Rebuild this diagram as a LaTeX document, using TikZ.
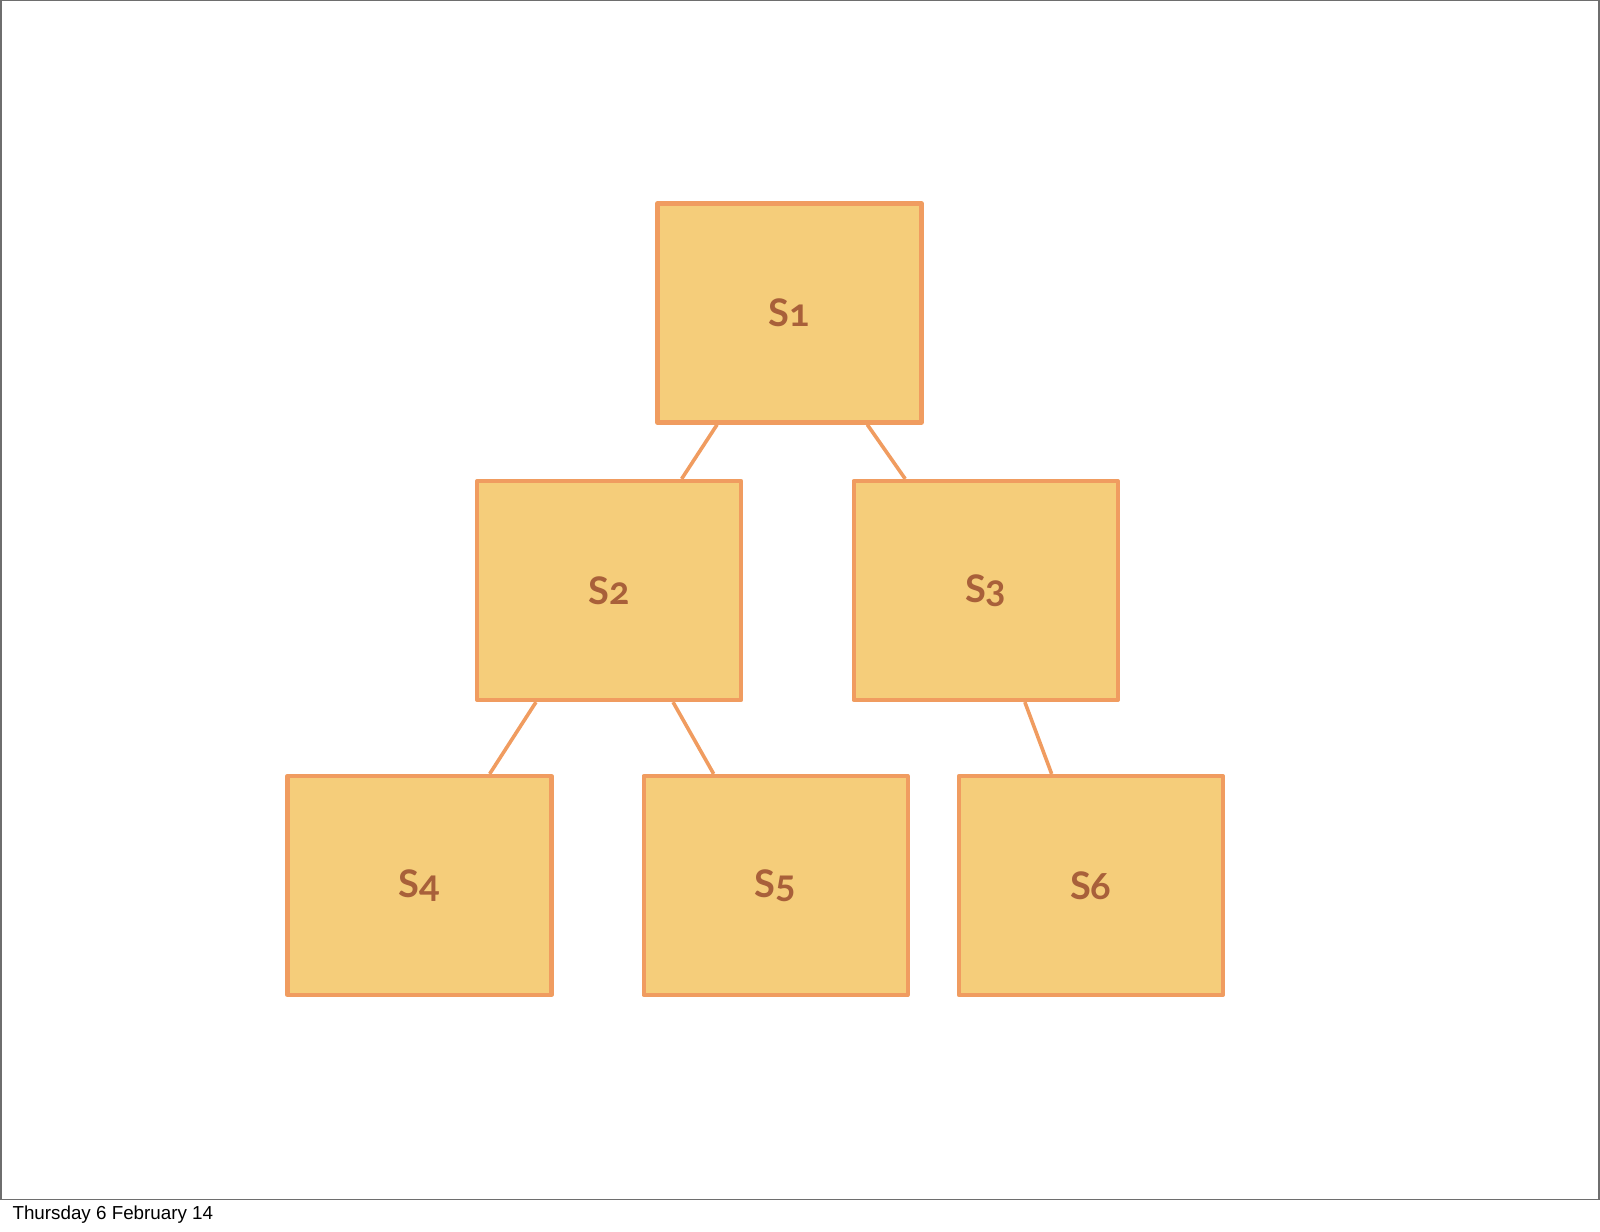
\documentclass[tikz,border=0pt]{standalone}
\usepackage{fontspec}
\setmainfont{Liberation Sans}
\newfontfamily\labfont[Numbers=OldStyle]{Lato}
\usetikzlibrary{calc}
\definecolor{boxfill}{HTML}{F5CD7A}
\definecolor{boxline}{HTML}{F09C60}
\definecolor{boxtext}{HTML}{A8603A}
\definecolor{framegray}{HTML}{6E6E6E}
\tikzset{
  sbox/.style={draw=boxline, fill=boxfill, line width=4.2pt, line join=round,
    minimum width=264pt, minimum height=219pt, inner sep=0pt,
    font=\labfont\bfseries\fontsize{38}{40}\selectfont, text=boxtext},
  link/.style={draw=boxline, line width=3.6pt}
}
\begin{document}
\begin{tikzpicture}[x=1pt,y=-1pt]
\useasboundingbox (0,0) rectangle (1600,1231);
\draw[framegray, line width=1.5pt] (0.75,0.75) rectangle (1599,1199.5);
\node[anchor=west, font=\fontsize{18.8}{21}\selectfont] (date) at (9,1214.5) {Thursday 6 February 14};
\node[sbox] (s1) at (789.5,313) {\raisebox{-2pt}{S1}};
\node[sbox] (s2) at (609.2,590.5) {\raisebox{-2pt}{S2}};
\node[sbox] (s3) at (985.7,590.5) {\raisebox{-2pt}{S3}};
\node[sbox] (s4) at (419.4,885.5) {\raisebox{-2pt}{S4}};
\node[sbox] (s5) at (775.6,885.5) {\raisebox{-2pt}{S5}};
\node[sbox] (s6) at (1090.8,885.5) {\raisebox{-2pt}{S6}};
\draw[link] ($(s1.south west)!0.23!(s1.south east)$) -- ($(s2.north west)!0.77!(s2.north east)$);
\draw[link] ($(s1.south west)!0.79!(s1.south east)$) -- ($(s3.north west)!0.20!(s3.north east)$);
\draw[link] ($(s2.south west)!0.227!(s2.south east)$) -- ($(s4.north west)!0.762!(s4.north east)$);
\draw[link] ($(s2.south west)!0.738!(s2.south east)$) -- ($(s5.north west)!0.269!(s5.north east)$);
\draw[link] ($(s3.south west)!0.646!(s3.south east)$) -- ($(s6.north west)!0.354!(s6.north east)$);
\end{tikzpicture}
\end{document}
